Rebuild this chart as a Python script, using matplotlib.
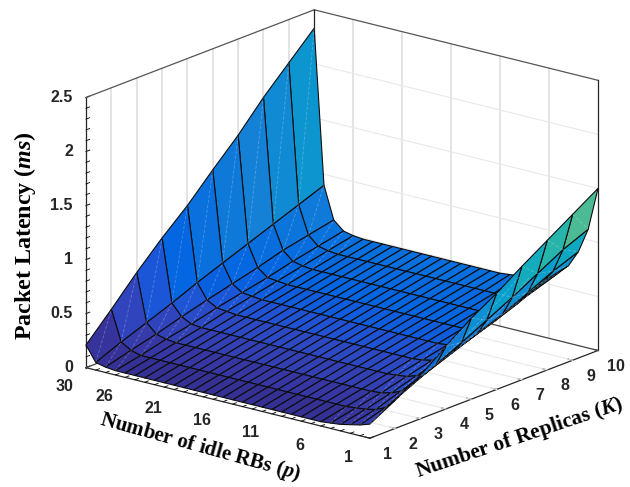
import numpy as np
import matplotlib
matplotlib.use("Agg")
import matplotlib.pyplot as plt
from matplotlib.colors import LinearSegmentedColormap
from matplotlib.ticker import MultipleLocator
from mpl_toolkits.mplot3d import proj3d

replicas = [1, 2, 3, 4, 5, 6, 7, 8, 9, 10]
idle_rbs = list(range(1, 31))
p_ticks = [1, 6, 11, 16, 21, 26, 30]
z_ticks = [0, 0.5, 1, 1.5, 2, 2.5]
z_labels = ["0", "0.5", "1", "1.5", "2", "2.5"]

latency_k1 = [0.13, 0.10, 0.08, 0.06, 0.05, 0.04, 0.04, 0.04, 0.04, 0.04, 0.04, 0.04, 0.04, 0.04, 0.04,
              0.04, 0.04, 0.04, 0.04, 0.04, 0.04, 0.04, 0.04, 0.04, 0.04, 0.04, 0.04, 0.05, 0.07, 0.21]
latency_k2 = [0.26, 0.17, 0.13, 0.11, 0.10, 0.09, 0.09, 0.09, 0.09, 0.09, 0.09, 0.09, 0.09, 0.09, 0.09,
              0.09, 0.09, 0.09, 0.09, 0.09, 0.09, 0.09, 0.09, 0.09, 0.09, 0.09, 0.09, 0.115, 0.17, 0.45]
latency_k3 = [0.40, 0.28, 0.21, 0.17, 0.15, 0.14, 0.14, 0.14, 0.14, 0.14, 0.14, 0.14, 0.14, 0.14, 0.14,
              0.14, 0.14, 0.14, 0.14, 0.14, 0.14, 0.14, 0.14, 0.14, 0.14, 0.14, 0.15, 0.175, 0.26, 0.70]
latency_k4 = [0.58, 0.39, 0.29, 0.24, 0.21, 0.20, 0.19, 0.19, 0.19, 0.19, 0.19, 0.19, 0.19, 0.19, 0.19,
              0.19, 0.19, 0.19, 0.19, 0.19, 0.19, 0.19, 0.19, 0.19, 0.19, 0.19, 0.20, 0.245, 0.35, 0.93]
latency_k5 = [0.75, 0.50, 0.38, 0.31, 0.27, 0.25, 0.24, 0.24, 0.24, 0.24, 0.24, 0.24, 0.24, 0.24, 0.24,
              0.24, 0.24, 0.24, 0.24, 0.24, 0.24, 0.24, 0.24, 0.24, 0.24, 0.25, 0.26, 0.31, 0.45, 1.14]
latency_k6 = [0.89, 0.62, 0.47, 0.38, 0.33, 0.30, 0.29, 0.29, 0.29, 0.29, 0.29, 0.29, 0.29, 0.29, 0.29,
              0.29, 0.29, 0.29, 0.29, 0.29, 0.29, 0.29, 0.29, 0.29, 0.29, 0.30, 0.31, 0.37, 0.54, 1.38]
latency_k7 = [1.05, 0.74, 0.56, 0.46, 0.40, 0.36, 0.34, 0.34, 0.34, 0.34, 0.34, 0.34, 0.34, 0.34, 0.34,
              0.34, 0.34, 0.34, 0.34, 0.34, 0.34, 0.34, 0.34, 0.34, 0.34, 0.35, 0.36, 0.43, 0.63, 1.61]
latency_k8 = [1.20, 0.87, 0.67, 0.55, 0.47, 0.42, 0.40, 0.39, 0.39, 0.39, 0.39, 0.39, 0.39, 0.39, 0.39,
              0.39, 0.39, 0.39, 0.39, 0.39, 0.39, 0.39, 0.39, 0.39, 0.39, 0.40, 0.42, 0.50, 0.72, 1.87]
latency_k9 = [1.35, 1.00, 0.78, 0.66, 0.55, 0.49, 0.46, 0.45, 0.44, 0.44, 0.44, 0.44, 0.44, 0.44, 0.44,
              0.44, 0.44, 0.44, 0.44, 0.44, 0.44, 0.44, 0.44, 0.44, 0.44, 0.45, 0.47, 0.55, 0.81, 2.10]
latency_k10 = [1.50, 1.10, 0.87, 0.72, 0.63, 0.57, 0.54, 0.52, 0.51, 0.50, 0.49, 0.49, 0.49, 0.49, 0.49,
               0.49, 0.49, 0.49, 0.49, 0.49, 0.49, 0.49, 0.49, 0.49, 0.49, 0.50, 0.52, 0.60, 0.90, 2.33]

latency = np.array([latency_k1, latency_k2, latency_k3, latency_k4, latency_k5,
                    latency_k6, latency_k7, latency_k8, latency_k9, latency_k10])

parula = LinearSegmentedColormap.from_list("parula", [
    (0.0, "#352A87"), (0.032, "#3636A0"), (0.063, "#3243BA"), (0.095, "#2053D4"),
    (0.127, "#0363E1"), (0.175, "#086FDE"), (0.25, "#1481D6"), (0.375, "#06A4CA"),
    (0.5, "#2EB7A4"), (0.625, "#87BF77"), (0.75, "#D1BB59"), (0.875, "#FEC832"), (1.0, "#F9FB0E")])

plt.rcParams["mathtext.fontset"] = "custom"
plt.rcParams["mathtext.rm"] = "Liberation Serif:bold"
plt.rcParams["mathtext.it"] = "Liberation Serif:italic:bold"
plt.rcParams["mathtext.cal"] = "Liberation Serif:italic:bold"

W, H = 630, 487
size = 571
left = 342 - 0.5135 * size
top = 224 - 0.4865 * size

fig = plt.figure(figsize=(W / 100, H / 100), dpi=100)
ax = fig.add_axes([left / W, 1 - (top + size) / H, size / W, size / H],
                  projection="3d", proj_type="ortho", computed_zorder=False)
ax.set_box_aspect((1, 1, 0.78))
ax.view_init(elev=18.0, azim=-141.2)

ax.set_xlim(1, 10)
ax.set_ylim(1, 30)
ax.set_zlim(0, 2.5)
ax.set_xticks(replicas)
ax.set_yticks(p_ticks)
ax.set_zticks(z_ticks)
ax.set_xticklabels([])
ax.set_yticklabels([])
ax.set_zticklabels([])
ax.yaxis.set_minor_locator(MultipleLocator(1))
ax.zaxis.set_minor_locator(MultipleLocator(0.1))
ax.grid(False)

for axis in (ax.xaxis, ax.yaxis, ax.zaxis):
    axis.set_pane_color((1, 1, 1, 1))
    axis.pane.set_edgecolor((1, 1, 1, 0))
    axis.line.set_color("#262626")
    axis.line.set_linewidth(0.9)
    axis._axinfo["tick"].update(inward_factor=0.0, outward_factor=0.2, linewidth={True: 0.8, False: 0.6})
    axis.set_tick_params(colors="#262626")

K_min, K_max = replicas[0], replicas[-1]
p_min, p_max = idle_rbs[0], idle_rbs[-1]
z_max = z_ticks[-1]

# grid by hand: reference has none on some walls
for k in replicas[1:-1]:
    ax.plot([k, k], [p_max, p_max], [0, z_max], color="#dddddd", lw=1.1, zorder=1)
    ax.plot([k, k], [p_min, p_max], [0, 0], color="#e8e8e8", lw=0.8, zorder=1)
for p in p_ticks[1:-1]:
    ax.plot([K_max, K_max], [p, p], [0, z_max], color="#dddddd", lw=1.1, zorder=1)
for z in z_ticks[1:-1]:
    ax.plot([K_max, K_max], [p_min, p_max], [z, z], color="#e8e8e8", lw=0.8, zorder=1)

# back box edges
for xs, ys, zs, col in [
    ([K_min, K_max], [p_max, p_max], [z_max, z_max], "#555555"),
    ([K_max, K_max], [p_min, p_max], [z_max, z_max], "#555555"),
    ([K_max, K_max], [p_max, p_max], [0, z_max], "#262626"),
    ([K_max, K_max], [p_min, p_min], [0, z_max], "#262626"),
    ([K_max, K_max], [p_min, p_max], [0, 0], "#444444"),
    ([K_min, K_max], [p_max, p_max], [0, 0], "#444444"),
]:
    ax.plot(xs, ys, zs, color=col, lw=0.9, zorder=1.5)

K, P = np.meshgrid(replicas, idle_rbs, indexing="ij")
colors = parula(np.clip(latency / 2.5, 0, 1))
ax.plot_surface(K, P, latency, facecolors=colors, rcount=10, ccount=30, shade=False,
                edgecolor="#0c0c0c", linewidth=0.8, antialiased=True, zorder=2)

# faint seams across the facets, only where the surface bends
for i in range(len(replicas) - 1):
    for j in range(len(idle_rbs) - 1):
        if abs(latency[i, j + 1] - latency[i, j]) < 0.008:
            continue
        ax.plot([replicas[i], replicas[i + 1]], [idle_rbs[j], idle_rbs[j + 1]],
                [latency[i, j], latency[i + 1, j + 1]],
                color="white", alpha=0.25, lw=0.6, ls=(0, (4, 2)), zorder=3)


def tick_label(x, y, z, text, dx, dy, ha="center"):
    px, py, _ = proj3d.proj_transform(x, y, z, ax.get_proj())
    ax.annotate(text, xy=(px, py), xycoords="data", xytext=(dx, dy), textcoords="offset pixels",
                ha=ha, va="center", family="Liberation Sans", fontweight="bold", fontsize=11.5,
                color="#262626", annotation_clip=False)


for z, lab in zip(z_ticks, z_labels):
    tick_label(K_min, p_max, z, lab, -13, 0, ha="right")
for p in p_ticks:
    tick_label(K_min, p, 0, str(p), -21, -19)
for k in replicas:
    tick_label(k, p_min, 0, str(k), 18, -16)

fig.text(25 / W, 1 - 236 / H, r"Packet Latency ($\mathit{ms}$)", rotation=90, ha="center", va="center",
         family="Liberation Serif", fontweight="bold", fontsize=17.3)
fig.text(200 / W, 1 - 447 / H, r"Number of idle RBs ($\mathit{p}$)", rotation=-15.5, ha="center", va="center",
         family="Liberation Serif", fontweight="bold", fontsize=15, rotation_mode="anchor")
fig.text(519 / W, 1 - 438 / H, r"Number of Replicas ($\mathcal{K}$)", rotation=18.5, ha="center", va="center",
         family="Liberation Serif", fontweight="bold", fontsize=15.5, rotation_mode="anchor")

fig.savefig("out.png", dpi=100)
